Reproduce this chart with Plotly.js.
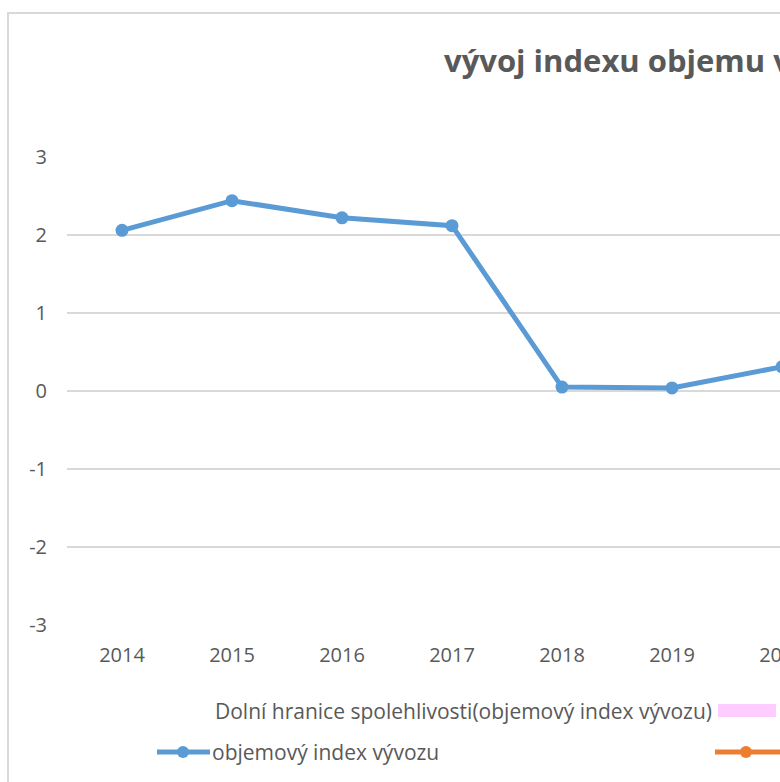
<!DOCTYPE html>
<html>
<head>
<meta charset="utf-8">
<script src="https://cdn.plot.ly/plotly-3.0.1.min.js"></script>
<style>
html,body{margin:0;padding:0;overflow:hidden;background:#fff;width:780px;height:782px;}
#chart{width:1000px;height:782px;}
</style>
</head>
<body>
<div id="chart"></div>
<script>
const years = ['2014','2015','2016','2017','2018','2019','2020'];
const exportIndex = [2.06, 2.44, 2.22, 2.12, 0.05, 0.04, 0.31];
const seriesName = 'objemový index vývozu';
const lowerBoundName = 'Dolní hranice spolehlivosti(objemový index vývozu)';
const titleText = 'vývoj indexu objemu vývozu';
const yTicks = [-3,-2,-1,0,1,2,3];
const yTickLabels = ['-3','-2','-1','0','1','2','3'];

const W = 1000, H = 782, L = 67, T = 157, B = 157;
const plotW = 110 * years.length, plotH = H - T - B;
const R = W - L - plotW;
const px = x => (x - L) / plotW;
const py = y => (H - B - y) / plotH;

const blue = '#5B9BD5', orange = '#ED7D31', grey = '#595959', grid = '#D9D9D9';
const fontFam = 'Open Sans';

const trace = {
  x: years, y: exportIndex, type: 'scatter', mode: 'lines+markers',
  name: seriesName,
  line: {color: blue, width: 5},
  marker: {color: blue, size: 13},
  cliponaxis: false,
  showlegend: false
};

const shapes = [
  // chart border
  {type:'rect', xref:'paper', yref:'paper', x0:px(8), x1:px(1200), y0:py(900), y1:py(13),
   line:{color:grid, width:2}, fillcolor:'rgba(0,0,0,0)', layer:'below'},
  // legend swatches
  {type:'rect', xref:'paper', yref:'paper', x0:px(718), x1:px(776), y0:py(717), y1:py(704),
   line:{width:0}, fillcolor:'#FFCCFF'},
  {type:'line', xref:'paper', yref:'paper', x0:px(157), x1:px(210), y0:py(752), y1:py(752),
   line:{color:blue, width:5}},
  {type:'circle', xref:'paper', yref:'paper', x0:px(177), x1:px(189), y0:py(758), y1:py(746),
   line:{width:0}, fillcolor:blue},
  {type:'line', xref:'paper', yref:'paper', x0:px(715), x1:px(790), y0:py(752), y1:py(752),
   line:{color:orange, width:5}},
  {type:'circle', xref:'paper', yref:'paper', x0:px(740), x1:px(752), y0:py(758), y1:py(746),
   line:{width:0}, fillcolor:orange}
];

const annotations = [
  {text: lowerBoundName, xref:'paper', yref:'paper', x:px(213), y:py(711), xanchor:'left', yanchor:'middle',
   showarrow:false, font:{family:fontFam, size:21, color:grey}},
  {text: seriesName, xref:'paper', yref:'paper', x:px(210), y:py(752), xanchor:'left', yanchor:'middle',
   showarrow:false, font:{family:fontFam, size:21, color:grey}},
  {text: '<b>' + titleText + '</b>', xref:'paper', yref:'paper', x:px(442), y:py(60), xanchor:'left', yanchor:'middle',
   showarrow:false, font:{family:fontFam, size:31, color:grey}}
];

const layout = {
  width: W, height: H,
  margin: {l: L, r: R, t: T, b: B},
  paper_bgcolor: '#fff', plot_bgcolor: '#fff',
  showlegend: false,
  xaxis: {type:'category', range:[-0.5, years.length - 0.5], showgrid:false, zeroline:false,
          showline:false, ticks:'', tickfont:{family:fontFam, size:20, color:grey}, ticklabelstandoff: 16},
  yaxis: {range:[-3, 3], tickvals: yTicks, ticktext: yTickLabels, showgrid:true, gridcolor:grid, gridwidth:2, zeroline:false,
          showline:false, ticks:'', tickfont:{family:fontFam, size:20, color:grey}, ticklabelstandoff: 19},
  shapes: shapes,
  annotations: annotations
};

Plotly.newPlot('chart', [trace], layout, {staticPlot:true, displayModeBar:false});
</script>
</body>
</html>
